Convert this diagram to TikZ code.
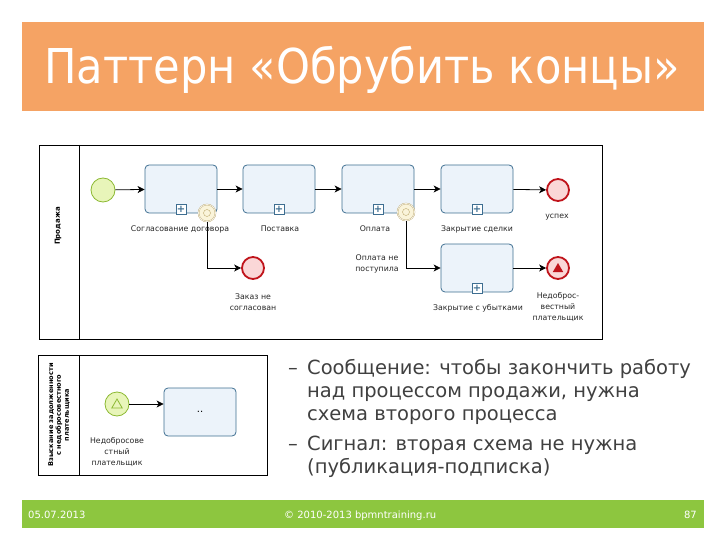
\documentclass[tikz,border=0pt]{standalone}
\usepackage{fontspec}
\setmainfont{DejaVu Sans}
\definecolor{titlebar}{RGB}{245, 163, 100}
\definecolor{footbar}{RGB}{141, 198, 63}
\definecolor{taskline}{RGB}{62, 110, 145}
\definecolor{taskfill}{RGB}{236, 243, 250}
\definecolor{startline}{RGB}{140, 185, 50}
\definecolor{startfill}{RGB}{232, 245, 185}
\definecolor{endline}{RGB}{192, 20, 27}
\definecolor{endfill}{RGB}{250, 215, 215}
\definecolor{catchline}{RGB}{190, 170, 110}
\definecolor{catchfill}{RGB}{250, 244, 218}
\definecolor{bodytext}{RGB}{64, 64, 64}
\usepackage{tikz}
\usetikzlibrary{arrows.meta}
\usetikzlibrary{positioning}
\usetikzlibrary{shapes}
\tikzset{
  taskbox/.style={draw=taskline, thick, fill=taskfill, rounded corners=4pt,
    minimum width=72pt, minimum height=48pt, inner sep=0},
  plusbox/.style={draw=taskline, fill=white, minimum size=10pt, inner sep=0,
    anchor=south, font=\bfseries\fontsize{10}{10}\selectfont, text=taskline},
  startev/.style={circle, draw=startline, fill=startfill, thick, minimum size=24pt, inner sep=0},
  endev/.style={circle, draw=endline, fill=endfill, line width=1.8pt, minimum size=22pt, inner sep=0},
  catchev/.style={circle, draw=catchline, fill=catchfill, double, minimum size=17pt, inner sep=0},
  flowarr/.style={-{Stealth[length=7pt, width=7pt, inset=2pt]}, thick},
  smalllbl/.style={font=\fontsize{7.8}{11}\selectfont, text=black!85, align=center, inner sep=0},
  pool/.style={draw, thick},
  bullet/.style={font=\fontsize{19.5}{23}\selectfont, text=bodytext, align=left,
    anchor=north west, inner sep=0},
  foot/.style={text=white, font=\fontsize{10}{10}\selectfont, inner sep=0}
}
\begin{document}
\begin{tikzpicture}[x=1pt, y=-1pt]
  \useasboundingbox (0,0) rectangle (720,540);
  % title and footer
  \fill[titlebar] (22,22) rectangle (704,111);
  \node (title) at (362,70) [text=white, xscale=0.9, font=\fontsize{48}{48}\selectfont]
    {Паттерн «Обрубить концы»};
  \fill[footbar] (22,500) rectangle (704,528);
  \node (date) at (28,518) [anchor=base west, foot] {05.07.2013};
  \node (copy) at (284,518) [anchor=base west, foot] {© 2010-2013 bpmntraining.ru};
  \node (page) at (697,518) [anchor=base east, foot] {87};

  % pool 1
  \draw[pool] (39,145) rectangle (602,339);
  \draw[pool] (79,145) -- (79,339);
  \node (lane) at (58,226) [rotate=90, font=\bfseries\fontsize{7}{8}\selectfont] {Продажа};

  \node[startev] (s1) at (103,190) {};
  \node[taskbox] (t1) at (181,189) {};
  \node[taskbox] (t2) at (279,189) {};
  \node[taskbox] (t3) at (378,189) {};
  \node[taskbox] (t4) at (477,189) {};
  \node[taskbox] (t5) at (477,268) {};
  \foreach \t in {t1,t2,t3,t4,t5}
    \node[plusbox] at ([yshift=-1pt]\t.south) {+};
  \node[endev] (e1) at (558,190) {};
  \node[endev] (e2) at (253,268) {};
  \node[endev] (e3) at (558,268) {};
  \node[regular polygon, regular polygon sides=3, fill=endline, minimum size=12pt,
        inner sep=0] at ([yshift=-1pt]e3) {};
  \node[catchev] (b1) at (207,213) {};
  \node[catchev] (b3) at (406,212) {};
  \draw[catchline] (b1) circle (3.5pt);
  \draw[catchline] (b3) circle (3.5pt);

  \draw[flowarr] (s1) -- (t1);
  \draw[flowarr] (t1) -- (t2);
  \draw[flowarr] (t2) -- (t3);
  \draw[flowarr] (t3) -- (t4);
  \draw[flowarr] (t4) -- (e1);
  \draw[flowarr] (b1.south) |- (e2);
  \draw[flowarr] (b3.south) |- (t5);
  \draw[flowarr] (t5) -- (e3);

  \node[smalllbl] (l1) at (180,229) {Согласование договора};
  \node[smalllbl] (l2) at (280,229) {Поставка};
  \node[smalllbl] (l3) at (375,229) {Оплата};
  \node[smalllbl] (l4) at (477,229) {Закрытие сделки};
  \node[smalllbl] (l5) at (557,217) {успех};
  \node[smalllbl] (l6) at (377,264) {Оплата не\\поступила};
  \node[smalllbl] (l7) at (253,302) {Заказ не\\согласован};
  \node[smalllbl] (l8) at (478,308) {Закрытие с убытками};
  \node[smalllbl] (l9) at (558,307) {Недоброс-\\вестный\\плательщик};

  % pool 2
  \draw[pool] (38,355) rectangle (267,475);
  \draw[pool] (79,355) -- (79,475);
  \node (lane2) at (59,415) [rotate=90, align=center,
    font=\bfseries\fontsize{6.6}{7.8}\selectfont]
    {Взыскание задолженности\\с недобросовестного\\плательщика};
  \node[startev] (s2) at (117,404) {};
  \node[regular polygon, regular polygon sides=3, draw=startline, thick,
        minimum size=12pt, inner sep=0] at ([yshift=-1pt]s2) {};
  \node[taskbox] (t6) at (200,412) {..};
  \draw[flowarr] (s2) -- (s2 -| t6.west);
  \node[smalllbl] (l10) at (117,452) {Недобросове\\стный\\плательщик};

  % bullets
  \node[bullet] (d1) at (288,358) {\strut–};
  \node[bullet] (m1) at (307,358) {\strut Сообщение: чтобы закончить работу\\над процессом продажи, нужна\\схема второго процесса};
  \node[bullet] (d2) at (288,434) {\strut–};
  \node[bullet] (m2) at (307,434) {\strut Сигнал: вторая схема не нужна\\(публикация-подписка)};
\end{tikzpicture}
\end{document}
